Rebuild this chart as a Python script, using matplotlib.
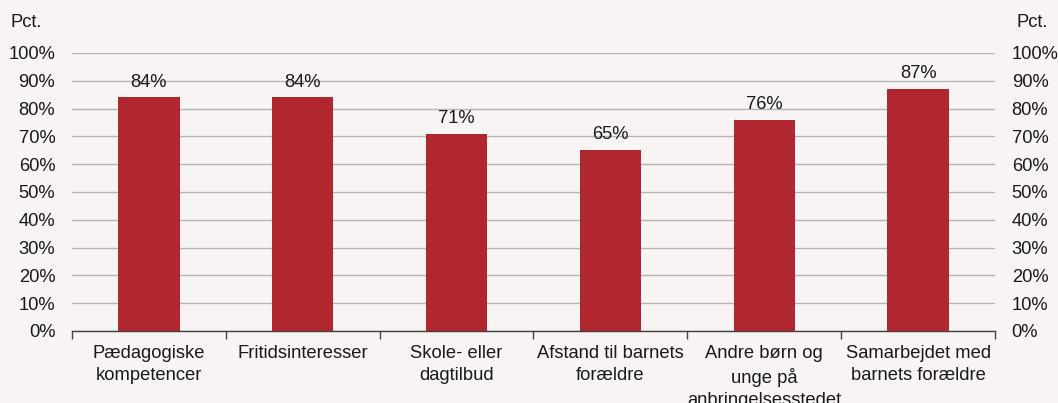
import matplotlib.pyplot as plt
import numpy as np

categories = ['Pædagogiske\nkompetencer', 'Fritidsinteresser', 'Skole- eller\ndagtilbud',
              'Afstand til barnets\nforældre', 'Andre børn og\nunge på\nanbringelsesstedet',
              'Samarbejdet med\nbarnets forældre']
values = [84, 84, 71, 65, 76, 87]
yticks = list(range(0, 101, 10))

plt.rcParams['font.family'] = ['Liberation Sans', 'DejaVu Sans']
bg = '#F7F4F3'
bar_color = '#B0272F'
fs = 13.2

fig = plt.figure(figsize=(10.58, 4.03), dpi=100, facecolor=bg)
ax = fig.add_axes([0.068, 0.1787, 0.8725, 0.6898], facecolor=bg)

x = np.arange(len(categories))
ax.bar(x, values, width=0.40, color=bar_color, zorder=3)
for xi, v in zip(x, values):
    ax.annotate(f'{v}%', (xi, v), xytext=(0, 5), textcoords='offset points',
                ha='center', va='bottom', fontsize=fs, color='#1a1a1a')

ax.set_xlim(-0.5, len(categories) - 0.5)
ax.set_ylim(0, 100)
ax.set_yticks(yticks)
ax.set_yticklabels([f'{t}%' for t in yticks])
ax.grid(axis='y', color='#B5B5B5', linewidth=1, zorder=0)
ax.tick_params(axis='y', length=0, labelsize=fs, pad=12, colors='#1a1a1a')

ax.set_xticks(x)
ax.set_xticklabels(categories, fontsize=fs, linespacing=1.38, color='#1a1a1a')
ax.tick_params(axis='x', length=0, pad=10)
ax.set_xticks(np.arange(-0.5, len(categories), 1), minor=True)
ax.tick_params(axis='x', which='minor', length=6, width=1, color='#404040', direction='out')

for s in ['top', 'left', 'right']:
    ax.spines[s].set_visible(False)
ax.spines['bottom'].set_color('#404040')
ax.spines['bottom'].set_linewidth(1)

ax2 = ax.twinx()
ax2.set_ylim(0, 100)
ax2.set_yticks(yticks)
ax2.set_yticklabels([f'{t}%' for t in yticks])
ax2.tick_params(axis='y', length=0, labelsize=fs, pad=12, colors='#1a1a1a')
for s in ['top', 'left', 'right', 'bottom']:
    ax2.spines[s].set_visible(False)

fig.text(0.010, 0.945, 'Pct.', fontsize=fs, ha='left', va='center', color='#1a1a1a')
fig.text(0.990, 0.945, 'Pct.', fontsize=fs, ha='right', va='center', color='#1a1a1a')

fig.savefig('out.png', dpi=100, facecolor=bg)
